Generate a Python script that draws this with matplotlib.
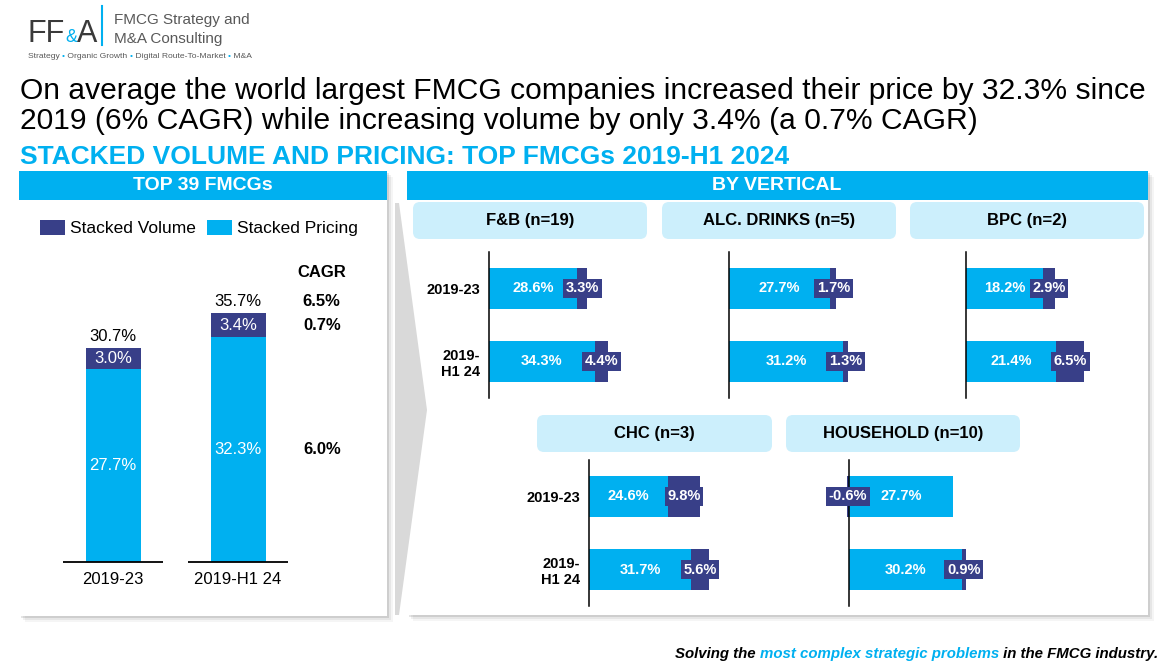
import numpy as np
import matplotlib
matplotlib.use("Agg")
from matplotlib import pyplot as plt
from matplotlib.patches import Rectangle, FancyBboxPatch, Polygon

plt.rcParams['font.family'] = ['Liberation Sans', 'DejaVu Sans']

CYAN = '#00B0F0'
NAVY = '#383F88'
LIGHT = '#CCEFFC'
W, H = 1162, 667

# ---- data ----
periods = ['2019-23', '2019-H1 24']
top_pricing = [27.7, 32.3]
top_volume = [3.0, 3.4]
top_total = [30.7, 35.7]
cagr_total, cagr_volume, cagr_pricing = 6.5, 0.7, 6.0

verticals = ['F&B (n=19)', 'ALC. DRINKS (n=5)', 'BPC (n=2)', 'CHC (n=3)', 'HOUSEHOLD (n=10)']
row_labels = ['2019-23', '2019-\nH1 24']
vert_pricing = [[28.6, 34.3], [27.7, 31.2], [18.2, 21.4], [24.6, 31.7], [27.7, 30.2]]
vert_volume = [[3.3, 4.4], [1.7, 1.3], [2.9, 6.5], [9.8, 5.6], [-0.6, 0.9]]


def rect_px(x0, y0, x1, y1):
    # pixel box (top-left origin) -> figure fraction rect
    return [x0 / W, 1 - y1 / H, (x1 - x0) / W, (y1 - y0) / H]


fig = plt.figure(figsize=(11.62, 6.67), dpi=100)
bg = fig.add_axes([0, 0, 1, 1], zorder=0)
bg.set_xlim(0, W)
bg.set_ylim(H, 0)
bg.axis('off')


def panel(x0, y0, x1, y1):
    # soft shadow then white card
    for d, a in [(6, 0.04), (4, 0.06), (2, 0.10)]:
        bg.add_patch(Rectangle((x0 + d, y0 + d), x1 - x0, y1 - y0,
                               fc='black', alpha=a, ec='none'))
    bg.add_patch(Rectangle((x0, y0), x1 - x0, y1 - y0, fc='white', ec='none'))


# ---- logo ----
bg.text(27, 42, 'FF', fontsize=22, color='#3A3A3A', va='baseline')
bg.text(65, 42, '&', fontsize=13, color=CYAN, va='baseline')
bg.text(77, 42, 'A', fontsize=22, color='#3A3A3A', va='baseline')
bg.plot([101.5, 101.5], [6, 45], color=CYAN, lw=1.5)
bg.text(114, 24, 'FMCG Strategy and', fontsize=11, color='#595959', va='baseline')
bg.text(114, 43, 'M&A Consulting', fontsize=11, color='#595959', va='baseline')
tag = ['Strategy ', '\u2022', ' Organic Growth ', '\u2022', ' Digital Route-To-Market ', '\u2022', ' M&A']
prev = bg.text(28, 58, tag[0], fontsize=6.1, color='#595959', va='baseline')
for piece in tag[1:]:
    prev = bg.annotate(piece, xy=(1, 0), xycoords=prev, va='bottom', ha='left',
                       fontsize=6.1, color=CYAN if piece == '\u2022' else '#595959')

# ---- titles ----
bg.text(20, 99, 'On average the world largest FMCG companies increased their price by 32.3% since',
        fontsize=21.6, va='baseline')
bg.text(20, 129, '2019 (6% CAGR) while increasing volume by only 3.4% (a 0.7% CAGR)',
        fontsize=21.6, va='baseline')
bg.text(20, 164, 'STACKED VOLUME AND PRICING: TOP FMCGs 2019-H1 2024',
        fontsize=19, fontweight='bold', color=CYAN, va='baseline')

# ---- panels ----
panel(19, 171, 387, 616)
panel(407, 171, 1148, 615)
bg.add_patch(Polygon([(395, 203), (399, 203), (427, 410), (399, 615), (395, 615)],
                     closed=True, fc='#D9D9D9', ec='none'))
bg.add_patch(Rectangle((19, 171), 368, 29, fc=CYAN, ec='none'))
bg.add_patch(Rectangle((407, 171), 741, 29, fc=CYAN, ec='none'))
bg.text(203, 186, 'TOP 39 FMCGs', fontsize=14, fontweight='bold', color='white',
        ha='center', va='center')
bg.text(777, 186, 'BY VERTICAL', fontsize=14, fontweight='bold', color='white',
        ha='center', va='center')

# ---- left chart: stacked columns ----
ax = fig.add_axes(rect_px(50.5, 272.8, 300.5, 562), zorder=2)
ax.patch.set_alpha(0)
x = np.arange(len(periods))
ax.bar(x, top_pricing, width=0.44, color=CYAN)
ax.bar(x, top_volume, width=0.44, bottom=top_pricing, color=NAVY)
ax.set_xlim(-0.5, 1.5)
ax.set_ylim(0, 41.5)
for s in ax.spines.values():
    s.set_visible(False)
ax.set_yticks([])
ax.set_xticks(x, periods, fontsize=12)
ax.tick_params(axis='x', length=0, pad=7)
for i in x:
    ax.hlines(0, i - 0.4, i + 0.4, color='black', lw=1.3, clip_on=False)
    p, v, t = top_pricing[i], top_volume[i], top_total[i]
    ax.text(i, p / 2, f'{p:.1f}%', ha='center', va='center', color='white', fontsize=12)
    ax.text(i, p + v / 2, f'{v:.1f}%', ha='center', va='center', color='white', fontsize=12)
    ax.annotate(f'{t:.1f}%', xy=(i, t), xytext=(0, 8.6), textcoords='offset points',
                ha='center', va='center', fontsize=12, annotation_clip=False)

cx = 1.67
ax.text(cx, 1.0, 'CAGR', transform=ax.get_xaxis_transform(), ha='center', va='center',
        fontsize=12, fontweight='bold')
ax.annotate(f'{cagr_total:.1f}%', xy=(cx, top_total[1]), xytext=(0, 8.6),
            textcoords='offset points', ha='center', va='center', fontsize=12,
            fontweight='bold', annotation_clip=False)
ax.text(cx, top_pricing[1] + top_volume[1] / 2, f'{cagr_volume:.1f}%', ha='center',
        va='center', fontsize=12, fontweight='bold')
ax.text(cx, top_pricing[1] / 2, f'{cagr_pricing:.1f}%', ha='center', va='center',
        fontsize=12, fontweight='bold')

handles = [Rectangle((0, 0), 1, 1, fc=NAVY), Rectangle((0, 0), 1, 1, fc=CYAN)]
fig.legend(handles, ['Stacked Volume', 'Stacked Pricing'], loc='center left',
           bbox_to_anchor=(40 / W, 1 - 228 / H), ncol=2, frameon=False, fontsize=12.5,
           handlelength=1.45, handleheight=1.0, handletextpad=0.3, columnspacing=0.6,
           borderpad=0, borderaxespad=0)

# ---- right charts: stacked horizontal bars per vertical ----
boxes = [(413, 202, 647, 239), (662, 202, 896, 239), (910, 202, 1144, 239),
         (537, 415, 772, 452), (786, 415, 1020, 452)]
axis_x = [489, 729, 966, 589, 849]
axis_y = [(252, 398), (252, 398), (252, 398), (460, 606), (460, 606)]
xmax = [48, 40.5, 35, 46, 39.5]
show_labels = [True, False, False, True, False]

for k, name in enumerate(verticals):
    bx0, by0, bx1, by1 = boxes[k]
    bg.add_patch(FancyBboxPatch((bx0, by0), bx1 - bx0, by1 - by0,
                                boxstyle='round,pad=0,rounding_size=7', fc=LIGHT, ec='none'))
    bg.text((bx0 + bx1) / 2, (by0 + by1) / 2, name, fontsize=12, fontweight='bold',
            ha='center', va='center')

    y0, y1 = axis_y[k]
    a = fig.add_axes(rect_px(axis_x[k], y0, axis_x[k] + 148, y1), zorder=2)
    a.patch.set_alpha(0)
    rows = np.arange(2)
    pr = np.array(vert_pricing[k])
    vo = np.array(vert_volume[k])
    vleft = np.where(vo >= 0, pr, 0)
    b1 = a.barh(rows, pr, height=0.56, color=CYAN)
    b2 = a.barh(rows, vo, left=vleft, height=0.56, color=NAVY)
    for patch in list(b1) + list(b2):
        patch.set_clip_on(False)
    a.set_xlim(0, xmax[k])
    a.set_ylim(1.5, -0.5)
    for side in ['top', 'right', 'bottom']:
        a.spines[side].set_visible(False)
    a.spines['left'].set_linewidth(1.1)
    a.set_xticks([])
    if show_labels[k]:
        a.set_yticks(rows, row_labels, fontsize=10.5, fontweight='bold')
        a.tick_params(axis='y', length=0, pad=6.5)
    else:
        a.set_yticks([])
    for r in rows:
        a.text(pr[r] / 2, r, f'{pr[r]:.1f}%', ha='center', va='center', color='white',
               fontsize=10.5, fontweight='bold')
        a.text(vleft[r] + vo[r] / 2, r, f'{vo[r]:.1f}%', ha='center', va='center',
               color='white', fontsize=10.5, fontweight='bold',
               bbox=dict(boxstyle='square,pad=0.18', fc=NAVY, ec='none'))

# ---- footer ----
foot = ['Solving the ', 'most complex strategic problems', ' in the FMCG industry.']
prev = bg.text(675, 661, foot[0], fontsize=10.8, fontweight='bold', style='italic', va='bottom')
for j, piece in enumerate(foot[1:]):
    prev = bg.annotate(piece, xy=(1, 0), xycoords=prev, va='bottom', ha='left',
                       fontsize=10.8, fontweight='bold', style='italic',
                       color=CYAN if j == 0 else 'black')

fig.savefig('out.png', dpi=100)
